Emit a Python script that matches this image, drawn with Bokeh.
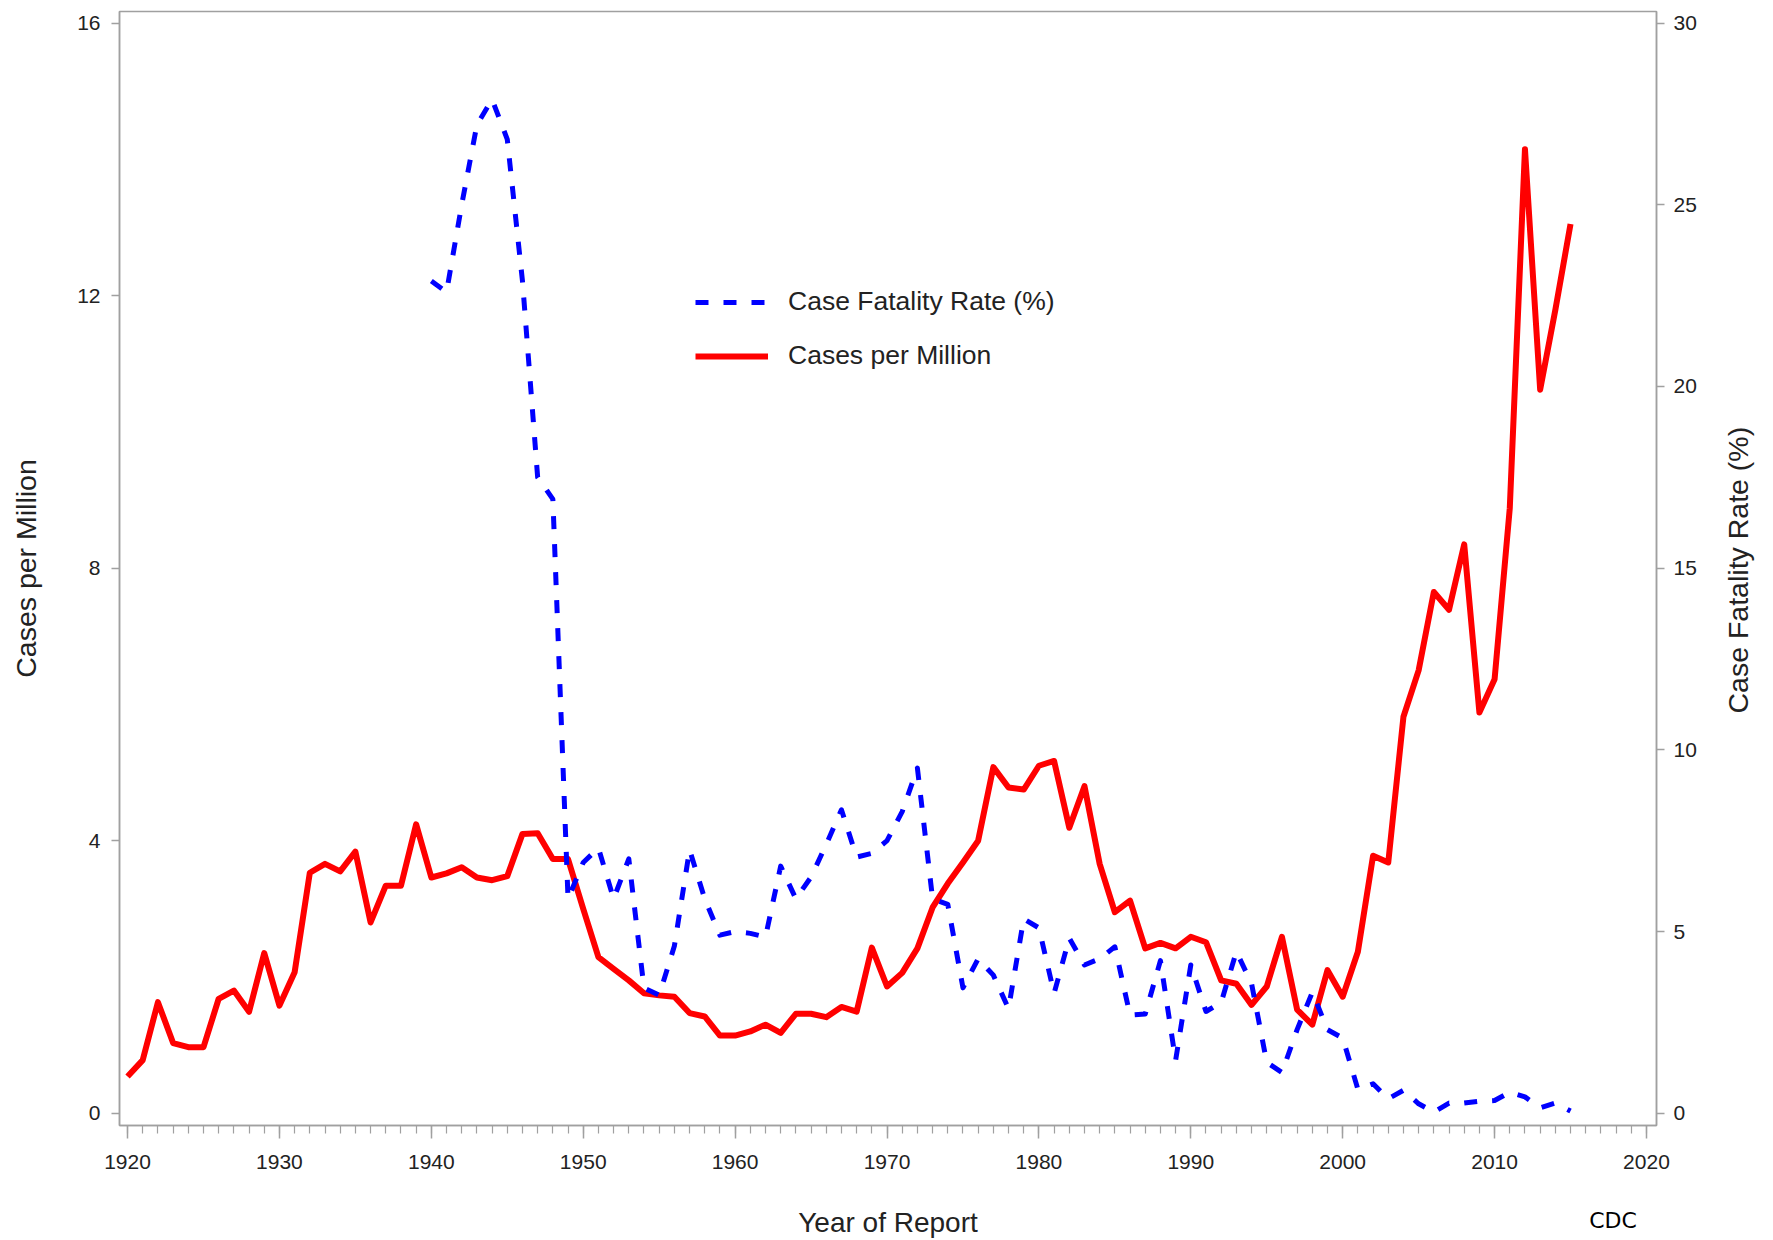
import math
from bokeh.plotting import figure
from bokeh.models import Range1d, LinearAxis, Legend, LegendItem, FixedTicker
from bokeh.embed import file_html
from bokeh.resources import INLINE

# ---------------- data ----------------
years_cases = list(range(1920, 2016))
cases_per_million = [
    0.54, 0.78, 1.63, 1.03, 0.97, 0.97, 1.68, 1.80, 1.49, 2.35,   # 1920-1929
    1.58, 2.07, 3.53, 3.66, 3.55, 3.84, 2.80, 3.34, 3.34, 4.24,   # 1930-1939
    3.46, 3.52, 3.61, 3.46, 3.42, 3.48, 4.10, 4.11, 3.73, 3.73,   # 1940-1949
    3.00, 2.29, 2.12, 1.95, 1.76, 1.73, 1.71, 1.47, 1.42, 1.14,   # 1950-1959
    1.14, 1.20, 1.30, 1.18, 1.46, 1.46, 1.41, 1.56, 1.49, 2.43,   # 1960-1969
    1.86, 2.06, 2.42, 3.02, 3.37, 3.68, 4.00, 5.08, 4.78, 4.75,   # 1970-1979
    5.10, 5.17, 4.19, 4.80, 3.66, 2.95, 3.12, 2.42, 2.50, 2.42,   # 1980-1989
    2.59, 2.51, 1.95, 1.90, 1.59, 1.86, 2.59, 1.52, 1.30, 2.10,   # 1990-1999
    1.71, 2.37, 3.78, 3.68, 5.82, 6.50, 7.65, 7.39, 8.35, 5.88,   # 2000-2009
    6.37, 8.88, 14.15, 10.62, 11.79, 13.05,                       # 2010-2015
]

years_cfr = list(range(1940, 2016))
case_fatality_rate = [
    22.9, 22.6, 25.0, 27.2, 27.9, 26.8, 22.9, 17.5, 16.9, 5.9,    # 1940-1949
    6.9, 7.3, 5.9, 7.0, 3.45, 3.25, 4.6, 7.25, 5.9, 4.9,          # 1950-1959
    5.0, 4.95, 4.85, 6.8, 5.9, 6.5, 7.4, 8.35, 7.05, 7.15,        # 1960-1969
    7.5, 8.3, 9.5, 5.9, 5.75, 3.45, 4.25, 3.8, 2.88, 5.35,        # 1970-1979
    5.1, 3.3, 4.82, 4.08, 4.25, 4.58, 2.7, 2.73, 4.2, 1.45,       # 1980-1989
    4.08, 2.8, 3.05, 4.45, 3.57, 1.4, 1.12, 2.3, 3.33, 2.3,       # 1990-1999
    2.07, 0.66, 0.81, 0.4, 0.63, 0.26, 0.03, 0.28, 0.28, 0.33,    # 2000-2009
    0.35, 0.58, 0.45, 0.15, 0.28, 0.06,                           # 2010-2015
]

x_ticks = list(range(1920, 2021, 10))
x_minor = list(range(1920, 2021))
left_ticks = [0, 4, 8, 12, 16]
right_ticks = [0, 5, 10, 15, 20, 25, 30]
source_note = "CDC"
right_title = "Case Fatality Rate (%)"

# layout constants (positions of the two free-standing texts)
SOURCE_NOTE_X = 2017.8      # centre of "CDC" on the year scale
RIGHT_TITLE_START = 11.0    # where the upward-reading right title starts (CFR scale)

FONT = "Liberation Sans"
TXT = "#222222"
AX = "#a0a0a0"

y0, y1 = -0.18, 16.17
p = figure(width=1773, height=1240, output_backend="svg", toolbar_location=None,
           x_range=Range1d(1919.47, 2020.66), y_range=Range1d(y0, y1),
           min_border_left=119, min_border_right=117, min_border_top=11,
           min_border_bottom=0)
p.extra_y_ranges = {"cfr": Range1d(y0 * 30 / 16, y1 * 30 / 16)}
p.xgrid.visible = False
p.ygrid.visible = False
p.outline_line_color = AX
p.outline_line_width = 1.5
p.background_fill_color = "white"
p.border_fill_color = "white"

# bottom axis (ticks + year labels)
xa = p.xaxis[0]
xa.ticker = FixedTicker(ticks=x_ticks, minor_ticks=x_minor)

# second bottom axis: carries the "Year of Report" title and the "CDC" source note
na = LinearAxis(ticker=FixedTicker(ticks=[SOURCE_NOTE_X], minor_ticks=[]),
                major_label_overrides={SOURCE_NOTE_X: source_note},
                axis_label="Year of Report")
p.add_layout(na, "below")

# left axis
ya = p.yaxis[0]
ya.ticker = FixedTicker(ticks=left_ticks, minor_ticks=[])
ya.axis_label = "Cases per Million"

# right axis
ra = LinearAxis(y_range_name="cfr", ticker=FixedTicker(ticks=right_ticks, minor_ticks=[]))
p.add_layout(ra, "right")

# second right axis: upward-reading title "Case Fatality Rate (%)"
rt = LinearAxis(y_range_name="cfr",
                ticker=FixedTicker(ticks=[RIGHT_TITLE_START], minor_ticks=[]),
                major_label_overrides={RIGHT_TITLE_START: right_title},
                major_label_orientation=math.pi / 2)
p.add_layout(rt, "right")

for ax in (xa, ya, ra):
    ax.axis_line_color = AX
    ax.axis_line_width = 1.5
    ax.major_tick_line_color = AX
    ax.major_tick_line_width = 1.5
    ax.minor_tick_line_color = AX
    ax.minor_tick_line_width = 1.2
    ax.major_tick_in = 0
    ax.minor_tick_in = 0
    ax.major_label_text_font = FONT
    ax.major_label_text_font_size = "21px"
    ax.major_label_text_color = TXT
    ax.axis_label_text_font = FONT
    ax.axis_label_text_font_size = "28.5px"
    ax.axis_label_text_font_style = "normal"
    ax.axis_label_text_color = TXT

for ax in (na, rt):
    ax.axis_line_color = None
    ax.major_tick_line_color = None
    ax.minor_tick_line_color = None
    ax.major_tick_out = 0
    ax.major_tick_in = 0
    ax.minor_tick_out = 0
    ax.minor_tick_in = 0

na.major_label_text_font = "DejaVu Sans"
na.major_label_text_font_size = "22px"
na.major_label_text_color = "#000000"
na.major_label_standoff = 36
na.axis_label_standoff = -29
na.axis_label_text_font = FONT
na.axis_label_text_font_size = "28px"
na.axis_label_text_font_style = "normal"
na.axis_label_text_color = TXT

rt.major_label_text_font = FONT
rt.major_label_text_font_size = "28.5px"
rt.major_label_text_color = TXT
rt.major_label_standoff = 39

xa.major_tick_out = 13
xa.minor_tick_out = 8
xa.major_label_standoff = 16
ya.major_tick_out = 8
ya.major_label_standoff = 11
ya.axis_label_standoff = 32
ra.major_tick_out = 8
ra.major_label_standoff = 9

r_red = p.line(years_cases, cases_per_million, line_color="#ff0000", line_width=6,
               line_join="round")
r_blue = p.line(years_cfr, case_fatality_rate, y_range_name="cfr", line_color="#0000ff",
                line_width=5, line_dash="13 15", line_join="round")

legend = Legend(items=[LegendItem(label="Case Fatality Rate (%)", renderers=[r_blue]),
                       LegendItem(label="Cases per Million", renderers=[r_red])],
                location=(576, 754), orientation="vertical",
                border_line_color=None, background_fill_alpha=0,
                padding=0, margin=0, spacing=23,
                glyph_width=73, glyph_height=30, label_height=30,
                label_standoff=20, label_text_font=FONT,
                label_text_font_size="26.5px", label_text_color=TXT)
p.add_layout(legend)

open("out.html", "w").write(file_html(p, INLINE))
